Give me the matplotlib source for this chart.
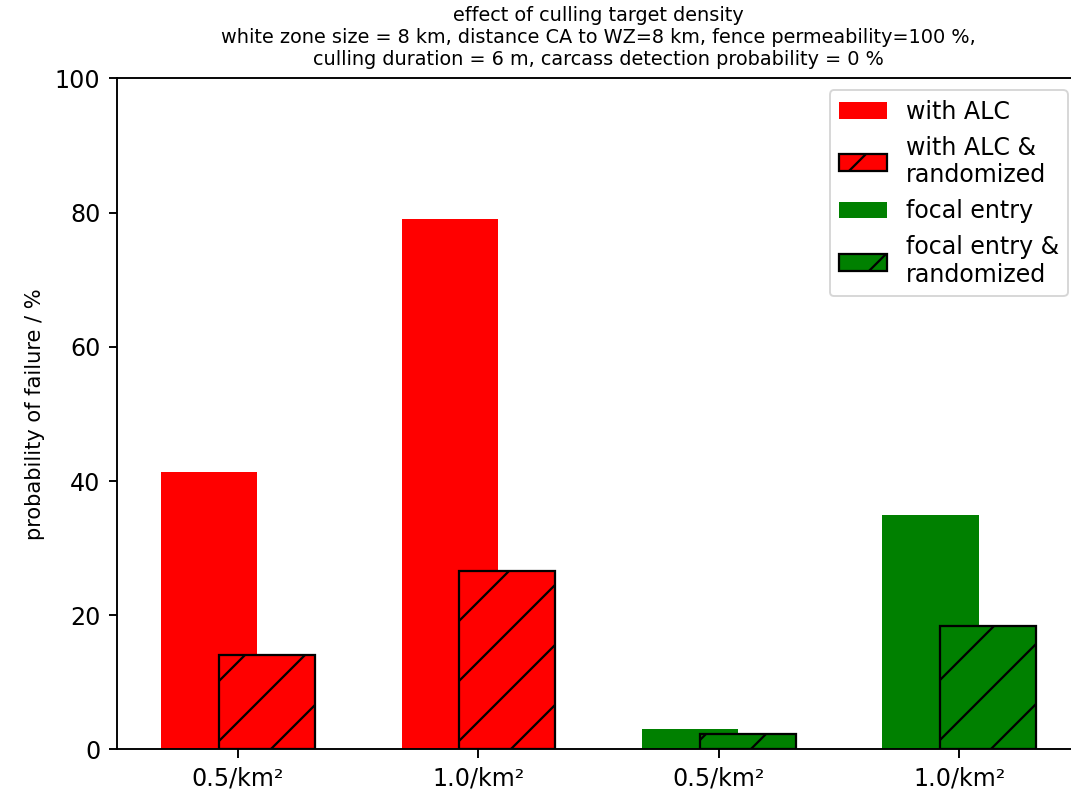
import numpy as np
import matplotlib
matplotlib.use("Agg")
import matplotlib.pyplot as plt

# Culling target densities (x tick labels) and failure probabilities in %
density_labels = ["0.5/km²", "1.0/km²", "0.5/km²", "1.0/km²"]
alc_values = [41.3, 79.0]
alc_randomized = [14.1, 26.6]
focal_values = [3.1, 35.0]
focal_randomized = [2.3, 18.4]

title_text = ("effect of culling target density\n"
              "white zone size = 8 km, distance CA to WZ=8 km, fence permeability=100 %,\n"
              "culling duration = 6 m, carcass detection probability = 0 %")

DPI = 180
plt.rcParams.update({
    "font.family": "DejaVu Sans",
    "axes.linewidth": 0.76,
    "xtick.major.width": 0.76,
    "ytick.major.width": 0.76,
    "xtick.major.size": 3.4,
    "ytick.major.size": 3.4,
    "xtick.major.pad": 3.4,
    "ytick.major.pad": 3.4,
    "xtick.labelsize": 9.5,
    "ytick.labelsize": 9.5,
    "hatch.linewidth": 0.9,
    "hatch.color": "black",
    "legend.fontsize": 9.5,
})

fig = plt.figure(figsize=(1071 / DPI, 791 / DPI), dpi=DPI)
ax = fig.add_axes([0.1095, 0.0525, 0.899, 0.8485])

x = np.arange(len(density_labels))
width = 0.4
off = 0.12

ax.bar(x[:2] - off, alc_values, width, color="red", linewidth=0, label="with ALC")
ax.bar(x[:2] + off, alc_randomized, width, color="red", edgecolor="black",
       linewidth=0.9, hatch="/", label="with ALC &\nrandomized")
ax.bar(x[2:] - off, focal_values, width, color="green", linewidth=0, label="focal entry")
ax.bar(x[2:] + off, focal_randomized, width, color="green", edgecolor="black",
       linewidth=0.9, hatch="/", label="focal entry &\nrandomized")

ax.set_ylim(0, 100)
ax.set_xticks(x)
ax.set_xticklabels(density_labels)
ax.set_yticks([0, 20, 40, 60, 80, 100])
ax.set_ylabel("probability of failure / %", fontsize=8.4, labelpad=3.8)
ax.set_title(title_text, fontsize=7.7, pad=5.5)

leg = ax.legend(loc="upper right")
leg.get_frame().set_linewidth(0.76)

fig.savefig("out.png", dpi=DPI)
